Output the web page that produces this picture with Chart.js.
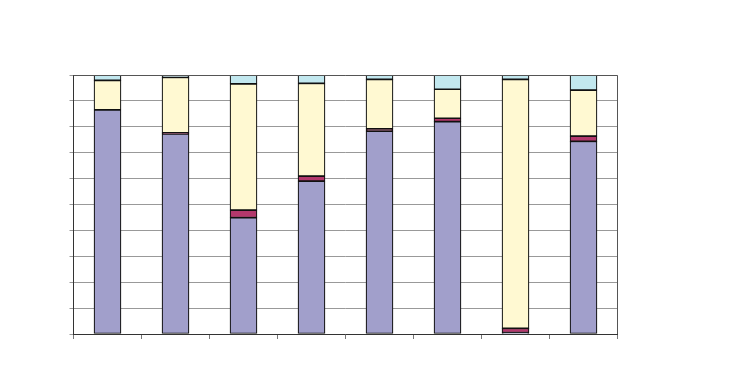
<!DOCTYPE html>
<html>
<head>
<meta charset="utf-8">
<script src="https://cdn.jsdelivr.net/npm/chart.js@4/dist/chart.umd.min.js"></script>
<style>
  body { margin: 0; background: #fff; }
  #wrap { width: 750px; height: 370px; }
</style>
</head>
<body>
<div id="wrap"><canvas id="chart"></canvas></div>
<script>
// categories (no labels shown in the picture)
const categories = ["1", "2", "3", "4", "5", "6", "7", "8"];

// share of each bar, percent
const seriesA = [86.5, 77.3, 44.9, 59.0, 78.3, 82.0, 0.5, 74.4];
const seriesB = [null, 0.4, 2.9, 2.0, 0.9, 1.3, 1.7, 2.0];
const seriesC = [11.4, 21.4, 48.8, 35.8, 19.1, 11.2, 96.1, 17.8];
const seriesD = [2.1, 0.9, 3.4, 3.2, 1.7, 5.5, 1.7, 5.8];

const yTicks = [0, 10, 20, 30, 40, 50, 60, 70, 80, 90, 100];

// frame round the plot area
const frame = {
  id: "frame",
  afterDraw(c) {
    const a = c.chartArea;
    const ctx = c.ctx;
    const t = Math.round(a.top) + 0.5;
    const r = Math.round(a.right) - 0.5;
    ctx.save();
    ctx.strokeStyle = "#555";
    ctx.lineWidth = 1;
    ctx.beginPath();
    ctx.moveTo(a.left, t);
    ctx.lineTo(r, t);
    ctx.lineTo(r, a.bottom);
    ctx.stroke();
    ctx.restore();
  }
};

function ds(data, color) {
  return {
    data: data,
    backgroundColor: color,
    borderColor: "#111",
    borderWidth: 1.2,
    borderSkipped: false,
    barThickness: 27,
    categoryPercentage: 1
  };
}

new Chart(document.getElementById("chart"), {
  type: "bar",
  data: {
    labels: categories,
    datasets: [
      ds(seriesA, "#A19FCB"),
      ds(seriesB, "#B3386C"),
      ds(seriesC, "#FFF9D2"),
      ds(seriesD, "#C2E8EF")
    ]
  },
  plugins: [frame],
  options: {
    responsive: true,
    maintainAspectRatio: false,
    animation: false,
    layout: { padding: { left: 69.5, right: 132.5, top: 75, bottom: 31 } },
    plugins: { legend: { display: false }, tooltip: { enabled: false } },
    scales: {
      x: {
        stacked: true,
        ticks: { display: false },
        grid: { drawOnChartArea: false, drawTicks: true, tickLength: 5, color: "#777", offset: true },
        border: { color: "#333" }
      },
      y: {
        stacked: true,
        min: 0,
        max: 100,
        afterBuildTicks: s => { s.ticks = yTicks.map(v => ({ value: v })); },
        ticks: { display: false },
        grid: { color: "#999", tickLength: 4 },
        border: { color: "#333" }
      }
    }
  }
});
</script>
</body>
</html>
